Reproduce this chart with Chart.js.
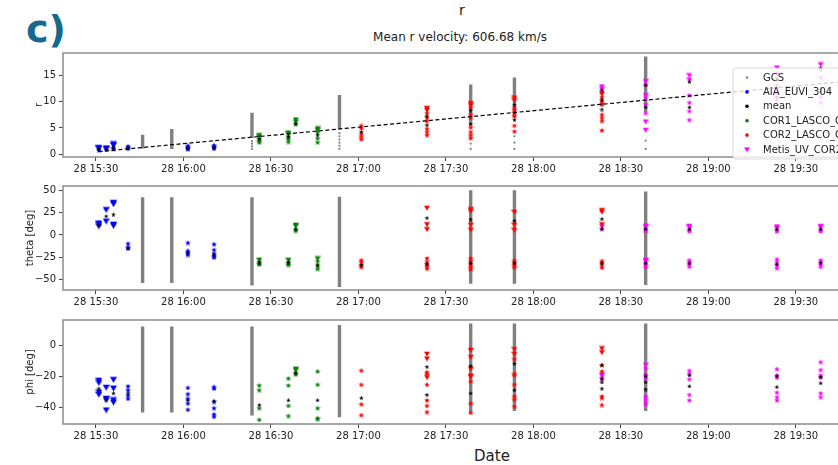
<!DOCTYPE html>
<html>
<head>
<meta charset="utf-8">
<script src="https://cdn.jsdelivr.net/npm/chart.js@4.4.1/dist/chart.umd.min.js"></script>
<style>
  body { margin: 0; background: #fff; overflow: hidden; width: 838px; height: 465px; position: relative; font-family: 'DejaVu Sans', sans-serif; }
  canvas { position: absolute; left: 0; }
  .txt { position: absolute; white-space: nowrap; color: #222; line-height: 1; }
</style>
</head>
<body>
<div class="txt" style="left:26px;top:10px;font-size:38px;font-weight:bold;color:#136a8c">c)</div>
<div class="txt" style="left:462px;top:3px;font-size:14px;transform:translateX(-50%)">r</div>
<div class="txt" style="left:460px;top:31px;font-size:12px;transform:translateX(-50%)">Mean r velocity: 606.68 km/s</div>
<div class="txt" style="left:492px;top:449px;font-size:15px;transform:translateX(-50%)">Date</div>
<canvas id="chartR" width="880" height="138" style="top:44px"></canvas>
<canvas id="chartTheta" width="880" height="138" style="top:177px"></canvas>
<canvas id="chartPhi" width="880" height="138" style="top:311px"></canvas>
<script>
// x values are minutes after 28 15:00
const tickTimes = [30, 60, 90, 120, 150, 180, 210, 240, 270];
const tickLabels = ['28 15:30', '28 16:00', '28 16:30', '28 17:00', '28 17:30', '28 18:00', '28 18:30', '28 19:00', '28 19:30'];
const rTicks = [0, 5, 10, 15];
const thetaTicks = [-50, -25, 0, 25, 50];
const phiTicks = [-40, -20, 0];

const legendLabels = ['GCS', 'AIA_EUVI_304', 'mean', 'COR1_LASCO_C2', 'COR2_LASCO_C3', 'Metis_UV_COR2'];

// rows are [time, value, value, ...]; bars are [time, low, high]
// ---- r ----
const gcsBarsR = [[46, 1.1, 3.7], [56, 1.0, 4.8], [83.5, 3.1, 7.9], [113.5, 4.8, 11.3], [158.5, 5.5, 13.3], [173.5, 7.0, 14.6], [218.5, 8.0, 18.6]];
const gcsDotsR = [[83.5, 1.0, 1.5, 2.0, 2.5], [113.5, 1.0, 1.6, 2.2, 2.8, 3.4, 4.0], [158.5, 1.0, 2.0, 3.1], [173.5, 1.0, 2.2, 3.4], [218.5, 1.0, 2.6]];
const aiaTriR = [[31, 1.25, 1.1], [33.5, 1.15, 1.0], [36, 1.95, 1.7]];
const aiaStarR = [[31, 0.8], [36, 1.2, 1.05], [41, 1.55, 1.35, 1.1], [61.5, 1.65, 1.45, 1.25, 1.0], [70.5, 1.75, 1.5, 1.3, 1.1]];
const cor1TriR = [[86, 3.6, 3.3], [96, 4.1, 3.8], [98.5, 6.6, 6.2], [106, 4.9, 4.6]];
const cor1StarR = [[86, 2.9, 2.6, 2.3], [96, 3.4, 2.9, 2.4], [98.5, 5.8], [106, 4.2, 3.1, 2.3]];
const cor2TriR = [[143.5, 8.8, 8.4], [158.5, 9.7, 9.3], [173.5, 10.8, 10.3], [203.5, 11.5]];
const cor2StarR = [[121, 5.5, 5.0, 3.9, 3.4, 2.9], [143.5, 7.9, 7.0, 6.4, 4.9, 4.3, 3.7], [158.5, 8.9, 7.6, 7.0, 5.2, 4.3, 3.7, 3.1],
  [173.5, 8.9, 8.4, 7.9, 7.3, 5.5, 4.4], [203.5, 11.0, 10.2, 9.8, 9.5, 7.6, 7.0, 6.4, 4.6]];
const metisTriR = [[203.5, 12.9, 12.4], [218.5, 13.9, 11.2, 6.2, 4.6], [233.5, 15.0, 14.2], [263.5, 16.5], [278.5, 17.1]];
const metisStarR = [[203.5, 12.0], [218.5, 13.3, 10.8, 9.6, 7.9], [233.5, 11.3, 9.9, 8.3, 6.6], [263.5, 15.5, 13.2, 11.8, 10.4],
  [278.5, 16.2, 14.7, 12.6, 11.0, 9.9]];
const meanR = [[31, 1.0], [33.5, 0.9], [36, 1.4], [41, 1.3], [61.5, 1.3], [70.5, 1.4], [86, 3.0], [96, 3.4], [98.5, 5.9], [106, 3.7],
  [121, 4.3], [143.5, 7.3, 5.6], [158.5, 8.4, 5.8], [173.5, 9.5, 6.6], [203.5, 12.3, 10.5, 8.6], [218.5, 13.2, 9.0], [233.5, 13.9, 9.0],
  [263.5, 14.5, 11.0], [278.5, 16.5, 12.0]];
const fitTimes = [31, 290];
const fitR = [0.49, 14.04];

// ---- theta ----
const gcsBarsTheta = [[46, -54, 42.5], [56, -54, 42.5], [83.5, -57, 42.5], [113.5, -58.5, 43], [158.5, -55, 50.5], [173.5, -55, 50.5], [218.5, -56.5, 49]];
const aiaTriTheta = [[31, 13.5, 12, 10], [33.5, 28.5, 15.5], [36, 36.5, 35, 12, 10.5]];
const aiaStarTheta = [[41, -9.5, -13.5, -15], [61.5, -8.5, -17.5, -20, -22], [70.5, -10, -16.5, -21, -23.5, -25]];
const cor1TriTheta = [[86, -28], [96, -28], [98.5, 11.5, 10], [106, -26.5]];
const cor1StarTheta = [[86, -30, -32, -33], [96, -30, -32, -33.5], [98.5, 6.5, 5], [106, -29, -35, -38]];
const cor2TriTheta = [[143.5, 30.5, 12, 6.5], [158.5, 29, 27, 11.5, 6], [173.5, 26, 11.5, 5.5], [203.5, 28, 26, 12]];
const cor2StarTheta = [[121, -28, -30, -34, -36], [143.5, -26, -30, -33, -35, -37.5], [158.5, -26, -29, -33, -36, -38.5],
  [173.5, -28.5, -31, -34, -36], [203.5, -29, -31, -34, -36.5]];
const metisTriTheta = [[203.5, 9.5], [218.5, 10.5, 9, -28, -29], [233.5, 10, 8.5], [263.5, 9.5, 8], [278.5, 10, 8.5]];
const metisStarTheta = [[203.5, 7], [218.5, 6, 5, -31, -34, -36], [233.5, 6, 4.5, -28, -30, -33, -35.5], [263.5, 6, 4.5, -27, -30, -34, -37],
  [278.5, 6, 4.5, -28, -30, -33, -35.5]];
const meanTheta = [[31, 11.5], [33.5, 21.5], [36, 23.5], [41, -14.5], [61.5, -19], [70.5, -21.5], [86, -30.5], [96, -30.5], [98.5, 7],
  [106, -33], [121, -33], [143.5, 19.5, -32], [158.5, 18, -31.5], [173.5, 16.5, -31.5], [203.5, 18.5, 7.5, -31.5], [218.5, 7.5, -31.5],
  [233.5, 7, -31.5], [263.5, 7, -32.5], [278.5, 7, -31]];

// ---- phi ----
const gcsBarsPhi = [[46, -43, 12], [56, -43, 12], [83.5, -45, 12], [113.5, -46, 13], [158.5, -43, 14], [173.5, -42, 14], [218.5, -42, 14]];
const aiaTriPhi = [[31, -22.5, -24, -30, -31.5], [33.5, -27, -34, -35, -41.5], [36, -22, -27.5, -35, -36.5]];
const aiaStarPhi = [[41, -26, -28.5, -32, -34], [61.5, -27, -31, -34, -37, -41], [70.5, -26.5, -27.5, -36, -40, -44, -45.5]];
const cor1TriPhi = [[98.5, -15, -16]];
const cor1StarPhi = [[86, -25.5, -28.5, -40, -47.5], [96, -21, -25.5, -38.5, -45], [98.5, -17.5, -18.5], [106, -16.5, -25, -40, -46.5, -47]];
const cor2TriPhi = [[143.5, -5.5, -8.5, -20.5], [158.5, -3, -7.5, -15, -19.5, -20], [173.5, -2.5, -5.5], [203.5, -2, -4.5]];
const cor2StarPhi = [[121, -16, -25, -37.5, -44.5], [143.5, -17, -18, -25, -35, -38.5, -42.5], [158.5, -23, -37, -43],
  [173.5, -8.5, -18, -19, -25, -32.5, -34.5, -39], [203.5, -12.5, -16.5, -32.5, -33.5, -38]];
const metisTriPhi = [[203.5, -19], [218.5, -12.5]];
const metisStarPhi = [[203.5, -18, -20, -21.5], [218.5, -14.5, -18.5, -21, -32.5, -34, -36, -37.5], [233.5, -16, -18, -21.5, -31.5, -35],
  [263.5, -15, -19, -20.5, -30, -33, -35], [278.5, -10.5, -15.5, -19, -20.5, -30.5, -33]];
const meanPhi = [[31, -27.5], [33.5, -34.5], [36, -30.5], [41, -30.5], [61.5, -35], [70.5, -35.5], [86, -38], [96, -35], [98.5, -17.5],
  [106, -35], [121, -33.5], [143.5, -13.5, -31.5], [158.5, -13, -30.5], [173.5, -11.5, -28.5], [203.5, -12.5, -21, -23.5, -27.5],
  [218.5, -19.5, -23.5, -28], [233.5, -19, -26], [263.5, -19.5, -26.5], [278.5, -20, -24]];

const BLUE = '#0000ff', GREEN = '#008000', RED = '#ff0000', MAGENTA = '#ff00ff', GRAY = '#808080';
Chart.defaults.font.family = "'DejaVu Sans', sans-serif";
Chart.defaults.color = '#222';

// turn [t, v1, v2..] rows into points
function rows(list) {
  const pts = [];
  list.forEach(r => r.slice(1).forEach(v => pts.push({ x: r[0], y: v })));
  return pts;
}
// vertical segments separated by gaps
function bars(list) {
  const pts = [];
  list.forEach(r => pts.push({ x: r[0], y: r[1] }, { x: r[0], y: r[2] }, { x: r[0], y: null }));
  return pts;
}

// marker images like matplotlib '*' and 'v'
function starImg(color, size) {
  const c = document.createElement('canvas');
  c.width = c.height = size;
  const g = c.getContext('2d');
  const R = size / 2, r = R * 0.42;
  g.beginPath();
  for (let i = 0; i < 10; i++) {
    const a = -Math.PI / 2 + i * Math.PI / 5;
    const rad = i % 2 ? r : R;
    g.lineTo(R + rad * Math.cos(a), R + 0.5 + rad * Math.sin(a));
  }
  g.closePath();
  g.fillStyle = color;
  g.fill();
  return c;
}
function triImg(color, size) {
  const c = document.createElement('canvas');
  c.width = c.height = size;
  const g = c.getContext('2d');
  g.beginPath();
  g.moveTo(0, size * 0.12);
  g.lineTo(size, size * 0.12);
  g.lineTo(size / 2, size * 0.95);
  g.closePath();
  g.fillStyle = color;
  g.fill();
  return c;
}

function pointSet(data, img, order) {
  return { data: rows(data), pointStyle: img, pointRadius: 3, showLine: false, order: order };
}

function makeDatasets(p) {
  const sets = [
    { data: bars(p.bars), showLine: true, borderColor: GRAY, borderWidth: 3.4, pointRadius: 0, spanGaps: false, order: 6 },
    { data: rows(p.dots || []), showLine: false, pointStyle: 'circle', pointRadius: 1.1, backgroundColor: GRAY, borderWidth: 0, order: 5 },
    pointSet(p.aiaTri, triImg(BLUE, 7), 3),
    pointSet(p.aiaStar, starImg(BLUE, 6), 3),
    pointSet(p.cor1Tri, triImg(GREEN, 6), 3),
    pointSet(p.cor1Star, starImg(GREEN, 6), 3),
    pointSet(p.cor2Tri, triImg(RED, 6), 3),
    pointSet(p.cor2Star, starImg(RED, 6), 3),
    pointSet(p.metisTri, triImg(MAGENTA, 6), 3),
    pointSet(p.metisStar, starImg(MAGENTA, 6), 3),
    pointSet(p.mean, starImg('#000', 5), 1)
  ];
  if (p.fit) {
    sets.push({ data: p.fit, showLine: true, borderColor: '#000', borderWidth: 1.2, borderDash: [4, 2.5], pointRadius: 0, order: 0 });
  }
  return sets;
}

// frame around the plot area
const framePlugin = {
  id: 'frame',
  afterDatasetsDraw(chart) {
    const a = chart.chartArea, ctx = chart.ctx;
    ctx.save();
    ctx.strokeStyle = '#8c8c8c';
    ctx.lineWidth = 1.5;
    ctx.strokeRect(a.left, a.top, a.right - a.left, a.bottom - a.top);
    ctx.restore();
  }
};

// matplotlib-style legend inside the upper right of the r panel
const legendPlugin = {
  id: 'innerLegend',
  afterDraw(chart) {
    if (!chart.options.plugins.innerLegend) return;
    const a = chart.chartArea, ctx = chart.ctx;
    const x0 = a.left + 670, y0 = a.top + 15, w = 120, h = 91;
    ctx.save();
    ctx.globalAlpha = 0.8;
    ctx.fillStyle = '#fff';
    ctx.strokeStyle = '#d0d0d0';
    ctx.lineWidth = 1;
    ctx.beginPath();
    ctx.roundRect(x0, y0, w, h, 3);
    ctx.fill();
    ctx.stroke();
    ctx.globalAlpha = 1;
    const colors = [GRAY, BLUE, '#000', GREEN, RED, MAGENTA];
    ctx.font = "10px 'DejaVu Sans'";
    ctx.textBaseline = 'middle';
    legendLabels.forEach((lab, i) => {
      const y = y0 + 9.5 + i * 14.4;
      const mx = x0 + 14;
      if (i === 5) {
        ctx.drawImage(triImg(MAGENTA, 6), mx - 3, y - 3);
      } else {
        ctx.fillStyle = colors[i];
        ctx.beginPath();
        ctx.arc(mx, y, i === 0 ? 1.2 : 1.8, 0, Math.PI * 2);
        ctx.fill();
      }
      ctx.fillStyle = '#222';
      ctx.fillText(lab, x0 + 30, y + 0.5);
    });
    ctx.restore();
  }
};

function fmt(v) {
  return String(v).replace('-', '\u2212');
}

function makeChart(id, p) {
  new Chart(document.getElementById(id), {
    type: 'scatter',
    data: { datasets: makeDatasets(p) },
    options: {
      responsive: false,
      animation: false,
      layout: { padding: { left: 0, right: 20, top: 2, bottom: 0 } },
      plugins: { legend: { display: false }, tooltip: { enabled: false }, innerLegend: p.legend || false },
      scales: {
        x: {
          type: 'linear', min: 18.7, max: 292,
          afterBuildTicks: s => { s.ticks = tickTimes.map(v => ({ value: v })); },
          afterFit: s => { s.height = 25; },
          grid: { drawOnChartArea: false, tickLength: 4, color: '#444' },
          border: { display: false },
          ticks: { font: { size: 10 }, padding: 2, maxRotation: 0, autoSkip: false, callback: (v, i) => tickLabels[i] }
        },
        y: {
          min: p.min, max: p.max,
          afterBuildTicks: s => { s.ticks = p.ticks.map(v => ({ value: v })); },
          afterFit: s => { s.width = 63; },
          grid: { drawOnChartArea: false, tickLength: 4, color: '#444' },
          border: { display: false },
          ticks: { font: { size: 10 }, padding: 3, callback: v => fmt(v) },
          title: { display: true, text: p.title, font: { size: 10 }, padding: { top: p.titlePad, bottom: 0 } }
        }
      }
    },
    plugins: [framePlugin, legendPlugin]
  });
}

makeChart('chartR', {
  bars: gcsBarsR, dots: gcsDotsR, aiaTri: aiaTriR, aiaStar: aiaStarR, cor1Tri: cor1TriR, cor1Star: cor1StarR,
  cor2Tri: cor2TriR, cor2Star: cor2StarR, metisTri: metisTriR, metisStar: metisStarR, mean: meanR,
  fit: fitTimes.map((t, i) => ({ x: t, y: fitR[i] })),
  min: -0.54, max: 19.29, ticks: rTicks, title: 'r', titlePad: 33, legend: true
});
makeChart('chartTheta', {
  bars: gcsBarsTheta, aiaTri: aiaTriTheta, aiaStar: aiaStarTheta, cor1Tri: cor1TriTheta, cor1Star: cor1StarTheta,
  cor2Tri: cor2TriTheta, cor2Star: cor2StarTheta, metisTri: metisTriTheta, metisStar: metisStarTheta, mean: meanTheta,
  min: -62, max: 55.2, ticks: thetaTicks, title: 'theta [deg]', titlePad: 24
});
makeChart('chartPhi', {
  bars: gcsBarsPhi, aiaTri: aiaTriPhi, aiaStar: aiaStarPhi, cor1Tri: cor1TriPhi, cor1Star: cor1StarPhi,
  cor2Tri: cor2TriPhi, cor2Star: cor2StarPhi, metisTri: metisTriPhi, metisStar: metisStarPhi, mean: meanPhi,
  min: -50.4, max: 16.2, ticks: phiTicks, title: 'phi [deg]', titlePad: 24
});
</script>
</body>
</html>
